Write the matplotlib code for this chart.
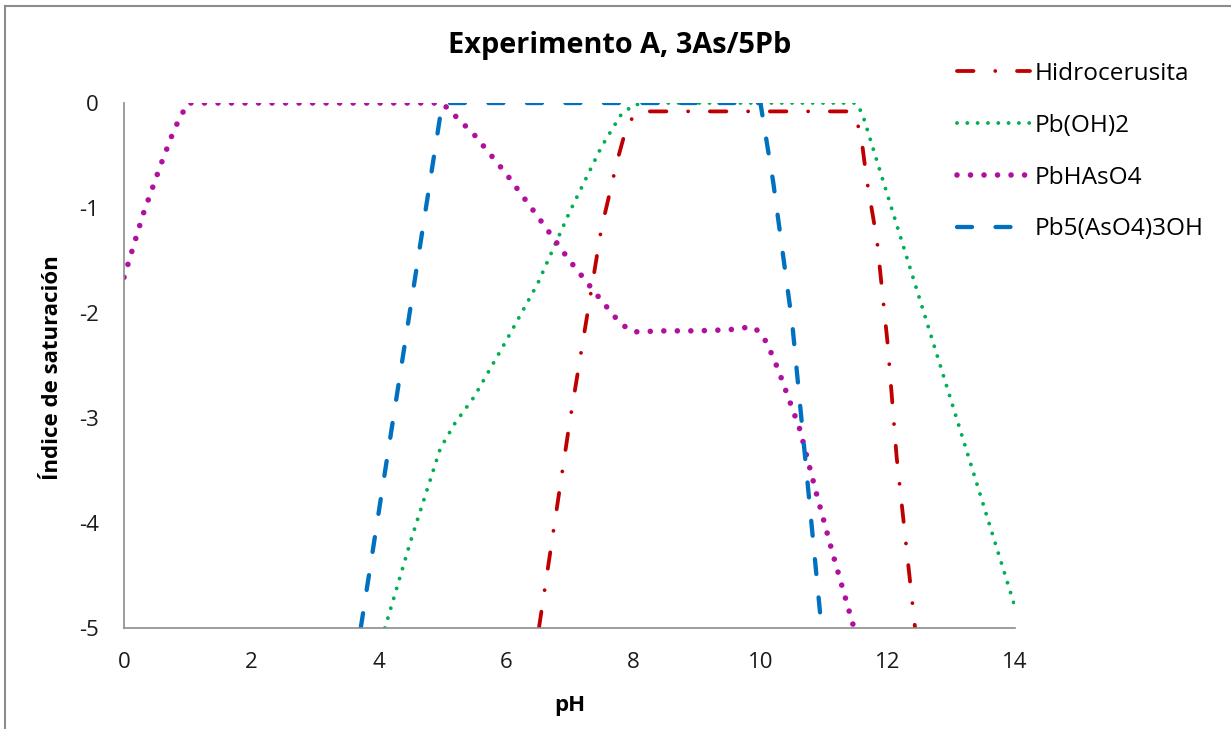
import matplotlib
matplotlib.use("Agg")
import matplotlib.pyplot as plt
from matplotlib.lines import Line2D

plt.rcParams['font.family'] = ['Open Sans', 'DejaVu Sans']
plt.rcParams['lines.scale_dashes'] = False

# Saturation index vs pH for each mineral phase
ph_hidro = [6.52, 7.0, 7.5, 7.75, 7.9, 8.05, 8.2, 11.4, 11.5, 11.6, 11.67, 11.83, 12.0, 12.14, 12.43]
si_hidro = [-5.0, -3.05, -1.2, -0.55, -0.22, -0.09, -0.08, -0.08, -0.12, -0.4, -0.73, -1.3, -2.3, -3.37, -5.0]

ph_pboh2 = [4.1, 4.5, 4.97, 5.2, 5.5, 6.0, 6.5, 7.0, 7.5, 7.8, 8.0, 8.2, 11.5, 11.6, 14.0]
si_pboh2 = [-5.0, -4.18, -3.29, -3.05, -2.8, -2.27, -1.72, -1.04, -0.42, -0.12, -0.02, 0.0, 0.0, -0.1, -4.8]

ph_pbhaso4 = [0.0, 0.3, 0.57, 0.79, 1.0, 5.0, 5.5, 6.0, 6.5, 7.0, 7.5, 7.8, 8.0, 8.5, 9.0, 9.5, 9.88,
              10.02, 10.12, 10.28, 10.62, 10.88, 11.14, 11.47]
si_pbhaso4 = [-1.66, -1.06, -0.6, -0.25, 0.0, 0.0, -0.3, -0.67, -1.08, -1.5, -1.88, -2.1, -2.18, -2.17,
              -2.17, -2.16, -2.13, -2.2, -2.31, -2.54, -3.11, -3.72, -4.3, -5.0]

ph_pb5 = [3.72, 5.0, 10.0, 10.2, 10.5, 10.96]
si_pb5 = [-5.0, 0.0, 0.0, -0.75, -2.1, -5.0]

labels = ['Hidrocerusita', 'Pb(OH)2', 'PbHAsO4', 'Pb5(AsO4)3OH']
x_ticks = [0, 2, 4, 6, 8, 10, 12, 14]
y_ticks = [0, -1, -2, -3, -4, -5]

W, H = 1231, 729
fig = plt.figure(figsize=(W / 100, H / 100), dpi=100)
ax = fig.add_axes([124 / W, 1 - 628 / H, (1015 - 124) / W, (628 - 103) / H])

px = 0.72  # points per pixel at 100 dpi

ax.plot(ph_hidro, si_hidro, color='#C00000', lw=3.8 * px, solid_capstyle='round',
        dash_capstyle='round', dashes=(16.5 * px, 21.75 * px, 0.01, 21.75 * px), label=labels[0])
ax.plot(ph_pboh2, si_pboh2, color='#00B050', lw=3.9 * px, dash_capstyle='round',
        dashes=(0.01, 10.3 * px), label=labels[1])
ax.plot(ph_pbhaso4, si_pbhaso4, color='#B0109E', lw=5.6 * px, dash_capstyle='round',
        dashes=(0.01, 13.5 * px), label=labels[2])
ax.plot(ph_pb5, si_pb5, color='#0070C0', lw=4.3 * px, dash_capstyle='round',
        dashes=(15.0 * px, 23.5 * px), label=labels[3])

ax.set_xlim(0, 14)
ax.set_ylim(-5, 0)
ax.set_xticks(x_ticks)
ax.set_yticks(y_ticks)
ax.set_yticklabels([str(v) for v in y_ticks])
ax.tick_params(axis='both', length=0, labelsize=16, colors='#1a1a1a')
ax.tick_params(axis='x', pad=17)
ax.tick_params(axis='y', pad=18)
for s in ['top', 'right']:
    ax.spines[s].set_visible(False)
for s in ['left', 'bottom']:
    ax.spines[s].set_color('#8C8C8C')
    ax.spines[s].set_linewidth(1.2)

fig.text(620 / W, 1 - 45 / H, 'Experimento A, 3As/5Pb', ha='center', va='center',
         fontsize=20.8, fontweight='bold')
fig.text(570 / W, 1 - 706 / H, 'pH', ha='center', va='center', fontsize=16, fontweight='bold')
fig.text(53 / W, 1 - 368 / H, 'Índice de saturación', ha='center', va='center',
         rotation=90, fontsize=16, fontweight='bold')

leg = ax.legend(loc='upper left', bbox_to_anchor=(947 / W, 1 - 52 / H),
                bbox_transform=fig.transFigure, frameon=False, fontsize=17.6,
                handlelength=3.0, handletextpad=0.2, labelspacing=1.14, borderaxespad=0)

# outer frame
fig.add_artist(Line2D([5 / W, 5 / W], [0, 1 - 6 / H], transform=fig.transFigure,
                      color='#8C8C8C', lw=1.5))
fig.add_artist(Line2D([5 / W, 1], [1 - 6 / H, 1 - 6 / H], transform=fig.transFigure,
                      color='#8C8C8C', lw=1.5))

fig.savefig('out.png', dpi=100)
